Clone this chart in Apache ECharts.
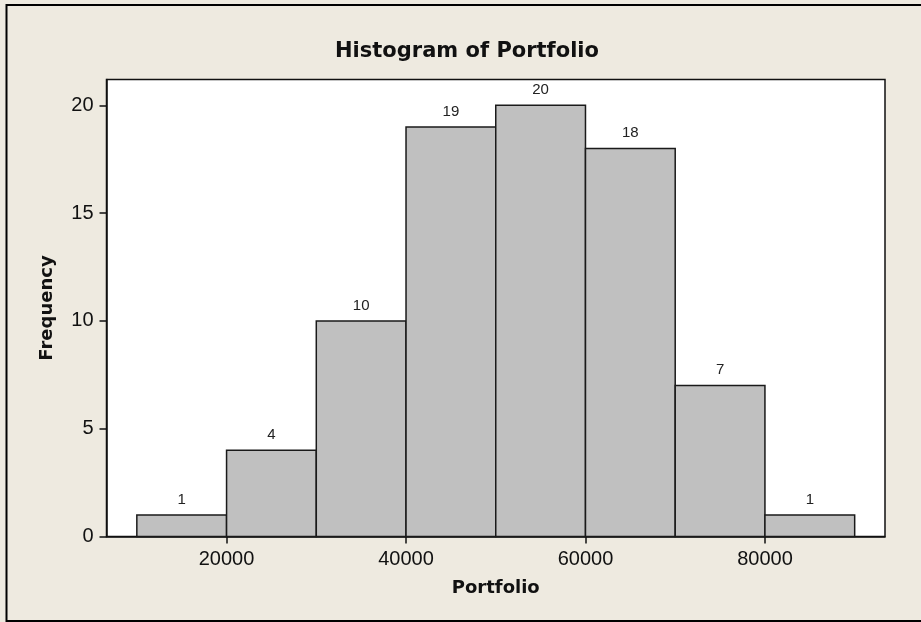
<!DOCTYPE html>
<html>
<head>
<meta charset="utf-8">
<script src="https://cdn.jsdelivr.net/npm/echarts@6/dist/echarts.min.js"></script>
<style>
html,body{margin:0;padding:0;background:#EEEAE0;}
#chart{width:921px;height:622px;}
</style>
</head>
<body>
<div id="chart"></div>
<script>
var binStarts = [10000, 20000, 30000, 40000, 50000, 60000, 70000, 80000];
var binEnds   = [20000, 30000, 40000, 50000, 60000, 70000, 80000, 90000];
var counts    = [1, 4, 10, 19, 20, 18, 7, 1];
var xTicks = [20000, 40000, 60000, 80000];
var yTicks = [0, 5, 10, 15, 20];
var titleText = 'Histogram of Portfolio';
var xName = 'Portfolio';
var yName = 'Frequency';

var data = counts.map(function (c, i) { return [binStarts[i], binEnds[i], c]; });

var chart = echarts.init(document.getElementById('chart'), null, {renderer: 'canvas'});
var boldFont = '"DejaVu Sans", sans-serif';
var tickFont = '"Liberation Sans", Arial, sans-serif';

chart.setOption({
  animation: false,
  backgroundColor: '#EEEAE0',
  graphic: [
    {type: 'rect', shape: {x: 6.5, y: 5, width: 940, height: 616}, style: {fill: 'none', stroke: '#000', lineWidth: 2}, z: 100},
    {type: 'text', x: 467, y: 52, style: {text: titleText, fontFamily: boldFont, fontWeight: 'bold', fontSize: 21, fill: '#111', textAlign: 'center', textVerticalAlign: 'middle'}}
  ],
  grid: {left: 106.5, right: 36, top: 79.5, bottom: 85.5, show: true, backgroundColor: '#fff', borderColor: '#111', borderWidth: 1.5},
  xAxis: {
    type: 'value', min: 6620, max: 93380,
    name: xName, nameLocation: 'middle', nameGap: 43,
    nameTextStyle: {fontFamily: boldFont, fontWeight: 'bold', fontSize: 18, color: '#111'},
    axisLine: {show: true, lineStyle: {color: '#111', width: 1.5}},
    axisTick: {show: true, length: 7, customValues: xTicks, lineStyle: {color: '#111', width: 1.5}},
    axisLabel: {customValues: xTicks, formatter: function (v) { return String(v); }, fontFamily: tickFont, fontSize: 20, color: '#111', margin: 13},
    splitLine: {show: false}
  },
  yAxis: {
    type: 'value', min: 0, max: 21.2,
    name: yName, nameLocation: 'middle', nameGap: 50,
    nameTextStyle: {fontFamily: boldFont, fontWeight: 'bold', fontSize: 18, color: '#111'},
    axisLine: {show: true, lineStyle: {color: '#111', width: 1.5}},
    axisTick: {show: true, length: 7, customValues: yTicks, lineStyle: {color: '#111', width: 1.5}},
    axisLabel: {customValues: yTicks, formatter: function (v) { return String(v); }, fontFamily: tickFont, fontSize: 20, color: '#111', margin: 13},
    splitLine: {show: false}
  },
  series: [{
    type: 'custom',
    data: data,
    encode: {x: [0, 1], y: 2},
    renderItem: function (params, api) {
      var tl = api.coord([api.value(0), api.value(2)]);
      var br = api.coord([api.value(1), 0]);
      return {
        type: 'group',
        children: [
          {type: 'rect', shape: {x: tl[0], y: tl[1], width: br[0] - tl[0], height: br[1] - tl[1]},
           style: {fill: '#C0C0C0', stroke: '#1a1a1a', lineWidth: 1.5}},
          {type: 'text', x: (tl[0] + br[0]) / 2, y: tl[1] - 8,
           style: {text: String(api.value(2)), fontFamily: tickFont, fontSize: 15, fill: '#222', textAlign: 'center', textVerticalAlign: 'bottom'}}
        ]
      };
    }
  }]
});
</script>
</body>
</html>
